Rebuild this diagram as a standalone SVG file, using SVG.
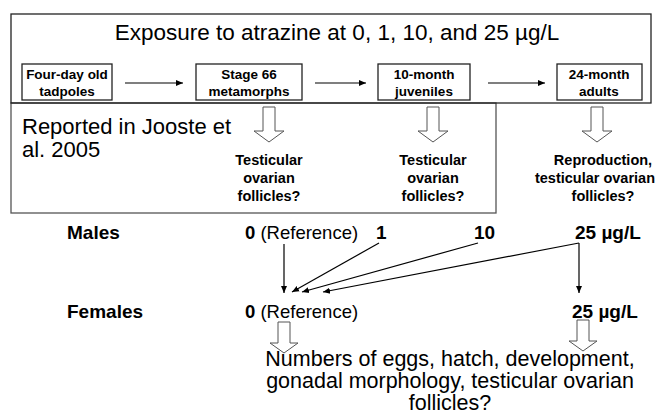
<svg xmlns="http://www.w3.org/2000/svg" width="659" height="414" viewBox="0 0 659 414">
<defs>
<style>
.frame{fill:none;stroke:#222;stroke-width:1.3}
.frame2{fill:none;stroke:#555;stroke-width:1.3}
.box{fill:#fff;stroke:#222;stroke-width:1.3}
.hollow{fill:#fff;stroke:#555;stroke-width:1}
.ln{fill:none;stroke:#000;stroke-width:1.2}
.t{font-family:"Liberation Sans",Arial,sans-serif;fill:#000}
.b{font-weight:bold}
</style>
<marker id="ah" markerWidth="8" markerHeight="8" refX="7" refY="4" orient="auto" markerUnits="userSpaceOnUse">
<path d="M0,1 L7,4 L0,7 z" fill="#000"/>
</marker>
<path id="hol" d="M-6,0 H6 V24 H15 L0,35 L-15,24 H-6 Z"/>
<path id="hol2" d="M-6,0 H6 V21 H14 L0,31 L-14,21 H-6 Z"/>
</defs>
<rect width="659" height="414" fill="#fff"/>
<g id="frames">
<rect class="frame2" x="11" y="103" width="485" height="110"/>
<rect class="frame" x="11" y="14" width="640" height="89"/>
</g>
<text class="t" x="337" y="40" font-size="22.5" text-anchor="middle">Exposure to atrazine at 0, 1, 10, and 25 µg/L</text>
<g id="n1"><rect class="box" x="22" y="64" width="90" height="36"/><text class="t b" font-size="13.5" text-anchor="middle"><tspan x="67" y="79">Four-day old</tspan><tspan x="67" y="96">tadpoles</tspan></text></g>
<g id="n2"><rect class="box" x="196" y="64" width="106" height="36"/><text class="t b" font-size="13.5" text-anchor="middle"><tspan x="249" y="79">Stage 66</tspan><tspan x="249" y="96">metamorphs</tspan></text></g>
<g id="n3"><rect class="box" x="378" y="64" width="92" height="36"/><text class="t b" font-size="13.5" text-anchor="middle"><tspan x="424" y="79">10-month</tspan><tspan x="424" y="96">juveniles</tspan></text></g>
<g id="n4"><rect class="box" x="557" y="64" width="85" height="36"/><text class="t b" font-size="13.5" text-anchor="middle"><tspan x="599" y="79">24-month</tspan><tspan x="599" y="96">adults</tspan></text></g>
<text class="t" font-size="22"><tspan x="22" y="134">Reported in Jooste et</tspan><tspan x="22" y="157">al. 2005</tspan></text>
<g id="hollows" class="hollow">
<use href="#hol" x="269" y="107"/>
<use href="#hol" x="433" y="107"/>
<use href="#hol" x="597" y="107"/>
<use href="#hol2" x="284" y="322"/>
<use href="#hol2" x="583" y="320"/>
</g>
<g id="r1"><text class="t b" font-size="14.5" text-anchor="middle"><tspan x="269" y="165">Testicular</tspan><tspan x="269" y="183">ovarian</tspan><tspan x="269" y="201">follicles?</tspan></text></g>
<g id="r2"><text class="t b" font-size="14.5" text-anchor="middle"><tspan x="433" y="165">Testicular</tspan><tspan x="433" y="183">ovarian</tspan><tspan x="433" y="201">follicles?</tspan></text></g>
<g id="r3"><text class="t b" font-size="14.5" text-anchor="middle"><tspan x="603" y="165">Reproduction,</tspan><tspan x="595" y="183">testicular ovarian</tspan><tspan x="603" y="201">follicles?</tspan></text></g>
<text class="t b" font-size="19" x="67" y="239">Males</text>
<text class="t" font-size="18.5" x="245" y="239"><tspan font-weight="bold">0</tspan> (Reference)</text>
<text class="t b" font-size="19" x="376" y="239">1</text>
<text class="t b" font-size="19" x="474" y="239">10</text>
<text class="t b" font-size="19" x="575" y="239">25 µg/L</text>
<text class="t b" font-size="19" x="67" y="318">Females</text>
<text class="t" font-size="18.5" x="245" y="318"><tspan font-weight="bold">0</tspan> (Reference)</text>
<text class="t b" font-size="19" x="572" y="318">25 µg/L</text>
<g id="connectors">
<line class="ln" x1="125" y1="83" x2="183" y2="83" marker-end="url(#ah)"/>
<line class="ln" x1="315" y1="83" x2="366" y2="83" marker-end="url(#ah)"/>
<line class="ln" x1="488" y1="83" x2="545" y2="83" marker-end="url(#ah)"/>
<line class="ln" x1="284" y1="244" x2="284" y2="293" marker-end="url(#ah)"/>
<line class="ln" x1="379" y1="243" x2="292" y2="292" marker-end="url(#ah)"/>
<line class="ln" x1="478" y1="243" x2="302" y2="292" marker-end="url(#ah)"/>
<line class="ln" x1="579" y1="243" x2="323" y2="292" marker-end="url(#ah)"/>
<line class="ln" x1="579" y1="243" x2="579" y2="293" marker-end="url(#ah)"/>
</g>
<text class="t" font-size="21.5" text-anchor="middle"><tspan x="450" y="366">Numbers of eggs, hatch, development,</tspan><tspan x="450" y="388">gonadal morphology, testicular ovarian</tspan><tspan x="450" y="410">follicles?</tspan></text>
</svg>
